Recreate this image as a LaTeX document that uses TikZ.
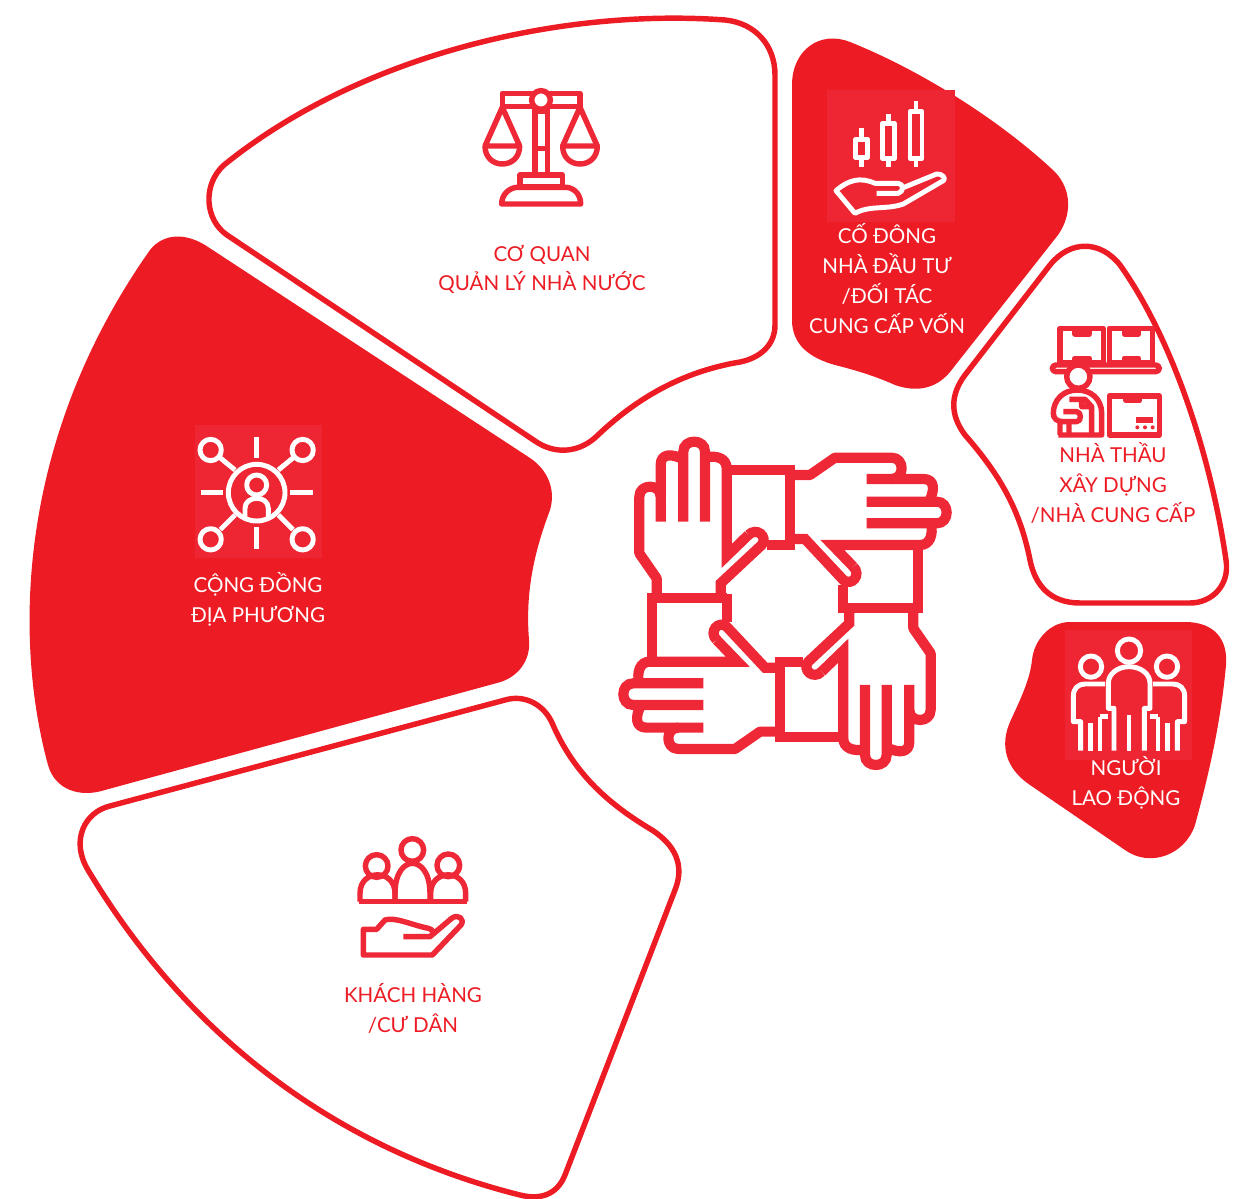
\documentclass[tikz,border=0pt]{standalone}
\usepackage{fontspec}
\setmainfont{Lato}
\usepackage{xcolor}
\usetikzlibrary{calc}
\tikzset{
  lbl/.style={align=center,font=\fontsize{11.7}{17}\selectfont,inner sep=0pt},
  petal/.style={draw=petalred,line width=3.1pt,fill=white},
  solidpetal/.style={fill=petalred},
  crop/.style 2 args={shift={(#1,#2)},x=0.006667cm,y=-0.006667cm},
  redicon/.style={draw=iconred,line width=3.1pt,line join=round},
  whiteicon/.style={draw=white,line width=2.8pt,line join=round},
  handline/.style={draw=iconred,line width=5.8pt,line join=miter}
}
\begin{document}
\begin{tikzpicture}[x=0.02cm,y=-0.02cm]
% Define colours
\definecolor{petalred}{RGB}{237,28,36}
\definecolor{iconred}{RGB}{238,40,54}
\definecolor{tilered}{RGB}{238,38,52}
\useasboundingbox (0,0) rectangle (1241,1199);

% Draw outlined petals
\draw[petal] (224,165) .. controls (360,55) and (560,8) .. (725,20) .. controls (755,23) and (775,45) .. (775,75) -- (775,325) .. controls (775,345) and (760,358) .. (740,362) .. controls (680,372) and (635,400) .. (598,435) .. controls (580,453) and (555,455) .. (535,441) -- (227,235) .. controls (205,220) and (202,185) .. (224,165) -- cycle;
\draw[petal] (110,806) -- (505,700) .. controls (525,694) and (545,705) .. (553,725) .. controls (575,775) and (610,805) .. (652,830) .. controls (675,845) and (685,865) .. (675,890) -- (565,1175) .. controls (557,1195) and (540,1200) .. (520,1195) .. controls (340,1150) and (190,1040) .. (88,870) .. controls (70,840) and (85,812) .. (110,806) -- cycle;
\draw[petal] (1120,265) .. controls (1170,335) and (1210,450) .. (1226,560) .. controls (1230,585) and (1212,603) .. (1190,603) -- (1080,603) .. controls (1050,603) and (1035,585) .. (1030,560) .. controls (1020,510) and (1000,475) .. (965,435) .. controls (950,415) and (950,395) .. (965,375) -- (1050,265) .. controls (1070,240) and (1100,240) .. (1120,265) -- cycle;

% Draw filled petals
\fill[solidpetal] (150,250) .. controls (160,237) and (180,230) .. (205,245) -- (530,458) .. controls (548,470) and (556,490) .. (550,510) .. controls (535,550) and (525,590) .. (529,640) .. controls (531,660) and (518,678) .. (497,683) -- (105,790) .. controls (80,798) and (55,790) .. (48,765) .. controls (14,640) and (16,440) .. (150,250) -- cycle;
\fill[solidpetal] (850,42) .. controls (920,70) and (1000,120) .. (1055,172) .. controls (1072,190) and (1072,215) .. (1058,235) -- (950,372) .. controls (935,390) and (915,392) .. (895,385) .. controls (875,376) and (855,370) .. (835,365) .. controls (810,358) and (792,345) .. (792,320) -- (792,85) .. controls (792,50) and (820,30) .. (850,42) -- cycle;
\fill[solidpetal] (1070,622) -- (1185,622) .. controls (1215,622) and (1228,640) .. (1226,665) .. controls (1221,720) and (1210,770) .. (1195,825) .. controls (1185,855) and (1150,868) .. (1125,850) -- (1030,785) .. controls (1005,768) and (1000,745) .. (1010,722) .. controls (1020,700) and (1030,680) .. (1032,660) .. controls (1034,640) and (1050,622) .. (1070,622) -- cycle;

% Add tiles behind white icons
\fill[tilered] (827,90) rectangle (955,222);
\fill[tilered] (195,425) rectangle (322,558);
\fill[tilered] (1065,630) rectangle (1192,760);

% Centre hands
\foreach \ang in {0,90,180,270} {
\begin{scope}[crop={600}{420},rotate around={\ang:(555,550)}]
\draw[handline,line join=round] (170,522) -- (170,475) -- (118,400) -- (118,230) .. controls (118,190) and (182,190) .. (182,230) -- (182,305);
\draw[handline,line join=round] (182,230) -- (182,135) .. controls (182,100) and (215,100) .. (250,118);
\draw[handline] (250,305) -- (250,95) .. controls (250,55) and (315,55) .. (315,95) -- (315,305);
\draw[handline] (315,112) .. controls (350,105) and (380,115) .. (380,145) -- (380,408) -- (445,345);
\draw[handline] (445,345) .. controls (470,320) and (505,350) .. (485,375) -- (362,490) -- (362,522);
\draw[handline] (380,535) -- (155,535) -- (155,725);
\draw[handline] (380,521) -- (380,605);
\end{scope}
}

% Scales icon
\begin{scope}[crop={430}{70}]
\draw[redicon] (217,70) rectangle (450,110);
\draw[redicon] (315,118) -- (315,310) (352,118) -- (352,310) (315,235) -- (352,235) (315,125) -- (352,125);
\draw[redicon,fill=white] (333,90) circle (28);
\foreach \px in {217,450} {
\draw[redicon] (\px-52,228) -- (\px,112) -- (\px+52,228) -- cycle;
\draw[redicon] (\px-52,228) .. controls (\px-52,300) and (\px+52,300) .. (\px+52,228);
}
\draw[redicon] (270,315) rectangle (397,350);
\draw[redicon] (215,402) .. controls (215,375) and (235,355) .. (260,352) -- (410,352) .. controls (435,355) and (452,375) .. (452,402) -- cycle;
\end{scope}

% Candles and hand icon
\begin{scope}[crop={800}{80}]
\foreach \cx/\ct/\cb/\wt in {185/178/232/145,265/130/235/102,348/95/235/62} {
\draw[whiteicon] (\cx-18,\ct) rectangle (\cx+18,\cb);
\draw[whiteicon] (\cx,\wt) -- (\cx,\ct) (\cx,\cb) -- (\cx,262);
}
\draw[whiteicon] (230,340) -- (295,340) .. controls (312,335) and (312,312) .. (295,310) -- (225,310) .. controls (180,290) and (145,300) .. (108,332) -- (165,400) .. controls (210,375) and (260,390) .. (310,372) -- (430,302) .. controls (440,295) and (425,280) .. (410,282) -- (305,325);
\end{scope}

% Worker and boxes icon
\begin{scope}[crop={1020}{310}]
\foreach \bx in {120,268} {
\draw[redicon] (\bx,55) rectangle (\bx+130,158);
\draw[redicon] (\bx+45,55) -- (\bx+45,72) -- (\bx+88,72) -- (\bx+88,55);
\draw[redicon] (\bx+45,158) -- (\bx+45,145) -- (\bx+88,145) -- (\bx+88,158);
}
\draw[redicon,rounded corners=2pt] (97,165) rectangle (418,185);
\draw[redicon,fill=white] (175,200) circle (35);
\draw[redicon] (115,375) -- (245,375) -- (245,310) .. controls (245,265) and (210,240) .. (172,240) .. controls (130,240) and (100,270) .. (100,310) .. controls (100,325) and (110,335) .. (130,335) -- (170,335) .. controls (185,335) and (185,305) .. (170,305) -- (130,305);
\draw[redicon] (120,335) -- (120,375) (147,335) -- (147,375) (148,268) -- (195,268) -- (215,290) -- (215,375) (185,268) -- (185,290) -- (215,290);
\draw[redicon] (268,258) rectangle (418,375);
\draw[redicon] (318,258) -- (318,272) -- (358,272) -- (358,258) (347,330) -- (400,330);
\foreach \dx in {352,375,398} \fill[iconred] (\dx,352) circle (6);
\end{scope}

% Three workers icon
\begin{scope}[crop={1050}{620}]
\draw[whiteicon] (237,92) circle (35);
\draw[whiteicon] (192,392) -- (192,265) -- (175,265) -- (175,190) .. controls (175,160) and (205,140) .. (237,140) .. controls (270,140) and (300,160) .. (300,190) -- (300,265) -- (283,265) -- (283,392);
\draw[whiteicon] (237,285) -- (237,392);
\foreach \sx in {0,1} {
\begin{scope}[xshift=\sx*474*0.006667cm,xscale=1-2*\sx]
\draw[whiteicon] (123,140) circle (32);
\draw[whiteicon] (165,192) -- (105,192) .. controls (85,192) and (70,205) .. (70,228) -- (70,305) -- (92,305) -- (92,392);
\draw[whiteicon] (122,310) -- (122,392) (150,290) -- (150,392) (150,290) -- (175,290);
\end{scope}
}
\end{scope}

% Community network icon
\begin{scope}[crop={180}{420}]
\draw[whiteicon] (230,218) circle (85);
\draw[whiteicon] (230,195) circle (30);
\draw[whiteicon] (195,292) -- (195,265) .. controls (195,225) and (265,225) .. (265,265) -- (265,292);
\draw[whiteicon] (230,50) -- (230,115) (230,320) -- (230,388) (62,218) -- (130,218) (330,218) -- (400,218);
\foreach \hx/\hy/\lx/\ly in {92/90/165/150,368/90/295/150,92/358/165/285,368/358/295/285} {
\draw[whiteicon] (\hx,\hy) circle (32);
\draw[whiteicon] ($(\hx,\hy)!0.4!(\lx,\ly)$) -- (\lx,\ly);
}
\end{scope}

% Customers icon
\begin{scope}[crop={335}{830}]
\foreach \hx/\hy in {125/108,232/60,340/106} \draw[redicon] (\hx,\hy) circle (34);
\draw[redicon] (72,215) -- (395,215);
\foreach \bx/\by in {75/116,180/70,287/116} {
\draw[redicon] (\bx,215) -- (\bx,190) .. controls (\bx,\by) and (\bx+105,\by) .. (\bx+105,190) -- (\bx+105,215);
}
\draw[redicon] (205,320) -- (285,320) .. controls (300,312) and (295,298) .. (280,295) .. controls (230,285) and (180,260) .. (150,270) -- (125,298) -- (85,298) -- (85,375) -- (292,375) -- (378,285) .. controls (390,268) and (370,250) .. (350,265) -- (285,320);
\end{scope}

% Add labels
\node[lbl,text=petalred] (coquan) at (542,269.5) {CƠ QUAN\\QUẢN LÝ NHÀ NƯỚC};
\node[lbl,text=white] (codong) at (887,278.5) {CỐ ĐÔNG\\NHÀ ĐẦU TƯ\\/ĐỐI TÁC\\CUNG CẤP VỐN};
\node[lbl,text=petalred] (nhathau) at (1113,483) {NHÀ THẦU\\XÂY DỰNG\\/NHÀ CUNG CẤP};
\node[lbl,text=white] (nguoi) at (1126,783) {NGƯỜI\\LAO ĐỘNG};
\node[lbl,text=white] (congdong) at (258,599) {CỘNG ĐỒNG\\ĐỊA PHƯƠNG};
\node[lbl,text=petalred] (khachhang) at (413,1008.5) {KHÁCH HÀNG\\/CƯ DÂN};
\end{tikzpicture}
\end{document}
